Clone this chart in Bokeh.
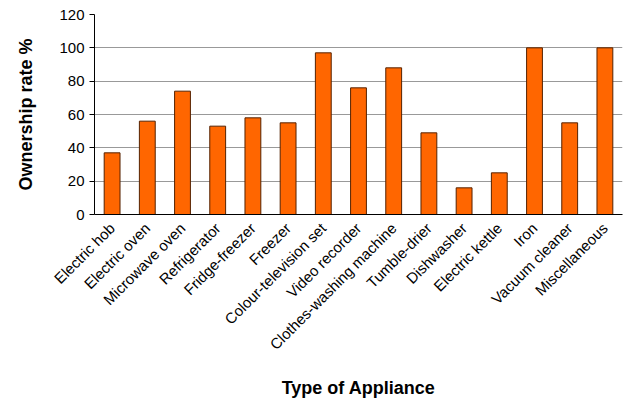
from bokeh.plotting import figure
from bokeh.embed import file_html
from bokeh.resources import INLINE
from bokeh.models import Range1d, FixedTicker
import math

categories = ["Electric hob","Electric oven","Microwave oven","Refrigerator","Fridge-freezer","Freezer",
              "Colour-television set","Video recorder","Clothes-washing machine","Tumble-drier","Dishwasher",
              "Electric kettle","Iron","Vacuum cleaner","Miscellaneous"]
values = [37, 56, 74, 53, 58, 55, 97, 76, 88, 49, 16, 25, 100, 55, 100]

p = figure(x_range=categories, frame_width=528, frame_height=200, output_backend="svg",
           toolbar_location=None, y_range=Range1d(0, 120))
p.min_border_left = 94; p.min_border_right = 4; p.min_border_top = 14; p.min_border_bottom = 4
p.vbar(x=categories, top=values, width=0.45, fill_color="#FF6600", line_color="#552200", line_width=1)
p.outline_line_color = None
p.xgrid.grid_line_color = None
p.ygrid.grid_line_color = "#999999"
p.yaxis.ticker = FixedTicker(ticks=list(range(0, 121, 20)))
p.yaxis.axis_label = "Ownership rate %"
p.xaxis.axis_label = "Type of Appliance"
for ax in (p.xaxis, p.yaxis):
    ax.axis_label_text_font = "Liberation Sans"
    ax.axis_label_text_font_style = "bold"
    ax.axis_label_text_font_size = "18px"
    ax.axis_label_text_color = "black"
    ax.major_label_text_font = "Liberation Sans"
    ax.major_label_text_font_size = "15px"
    ax.major_label_text_color = "black"
    ax.axis_line_color = "black"
    ax.major_tick_line_color = "black"
    ax.minor_tick_line_color = None
p.xaxis.major_label_orientation = math.pi / 4
p.xaxis.major_tick_line_color = None
p.xaxis.axis_label_standoff = 16
p.yaxis.axis_label_standoff = 20
p.yaxis.major_tick_out = 5
p.yaxis.major_tick_in = 0

open("out.html", "w").write(file_html(p, INLINE))
